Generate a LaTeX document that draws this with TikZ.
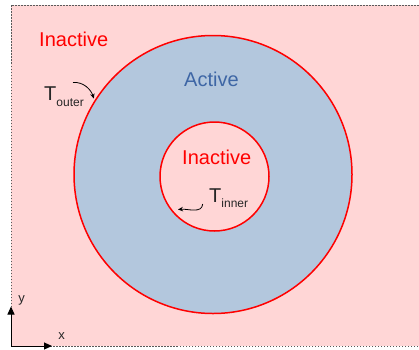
\documentclass[tikz,border=0pt]{standalone}
\usepackage{fontspec}
\setmainfont{Liberation Sans}
\usetikzlibrary{positioning, arrows.meta}
\definecolor{ZonePink}{RGB}{255,214,214}
\definecolor{ZoneBlue}{RGB}{179,199,221}
\definecolor{ZoneText}{RGB}{62,102,165}
\definecolor{FrameGray}{RGB}{90,90,90}

\begin{document}
\begin{tikzpicture}[x=1pt, y=1pt]
        \tikzstyle{ring} = [circle, draw=red, line width=1.5pt, inner sep=0pt]
        \tikzstyle{zone} = [text=red, font=\fontsize{20}{24}\selectfont, inner sep=0pt, anchor=base west]
        \tikzstyle{temp} = [text=black!85, font=\fontsize{20}{24}\selectfont, inner sep=0pt, anchor=base west]
        \tikzstyle{lbl} = [text=black!85, font=\fontsize{13}{15}\selectfont, inner sep=0pt]
        \tikzstyle{pointer} = [-{Stealth[length=5pt, width=4.5pt]}, line width=0.8pt]
        \tikzstyle{axis} = [-{Triangle[length=8pt, width=7pt]}, line width=1pt]

        \clip (0,0) rectangle (419,349);
        \fill[ZonePink] (11,3) rectangle (430,344);
        \draw[FrameGray, line width=0.8pt, dash pattern=on 1.5pt off 1.5pt] (11,3) rectangle (430,344);

        \node[ring, fill=ZoneBlue, minimum size=278pt] (outer) at (213,174.5) {};
        \node[ring, fill=ZonePink, minimum size=109pt] (inner) at (214.5,172.5) {};

        \node[zone] (inactout) at (39,303) {Inactive};
        \node[zone, text=ZoneText] (active) at (184,263) {Active};
        \node[zone] (inactin) at (182,185) {Inactive};

        \node[temp] (tout) at (44,249) {T\raisebox{-6pt}{\fontsize{12}{14}\selectfont outer}};
        \node[temp] (tin) at (209,147) {T\raisebox{-5pt}{\fontsize{12}{14}\selectfont inner}};

        \coordinate (touttail) at (73,266.5);
        \coordinate (tintail) at (202.7,145);
        \coordinate (tintip) at (178,139.5);
        \draw[pointer, shorten >=2pt] (touttail) to[out=5, in=108] (outer.148);
        \draw[pointer] (tintail) to[out=-95, in=5] (tintip);

        \coordinate (origin) at (11,3);
        \coordinate (yend) at (11,42.5);
        \coordinate (xend) at (52,3);
        \draw[axis] (origin) -- (yend);
        \draw[axis] (origin) -- (xend);
        \node[lbl] (ylab) at (21.7,49) {y};
        \node[lbl] (xlab) at (61.7,13) {x};
      \end{tikzpicture}
\end{document}
